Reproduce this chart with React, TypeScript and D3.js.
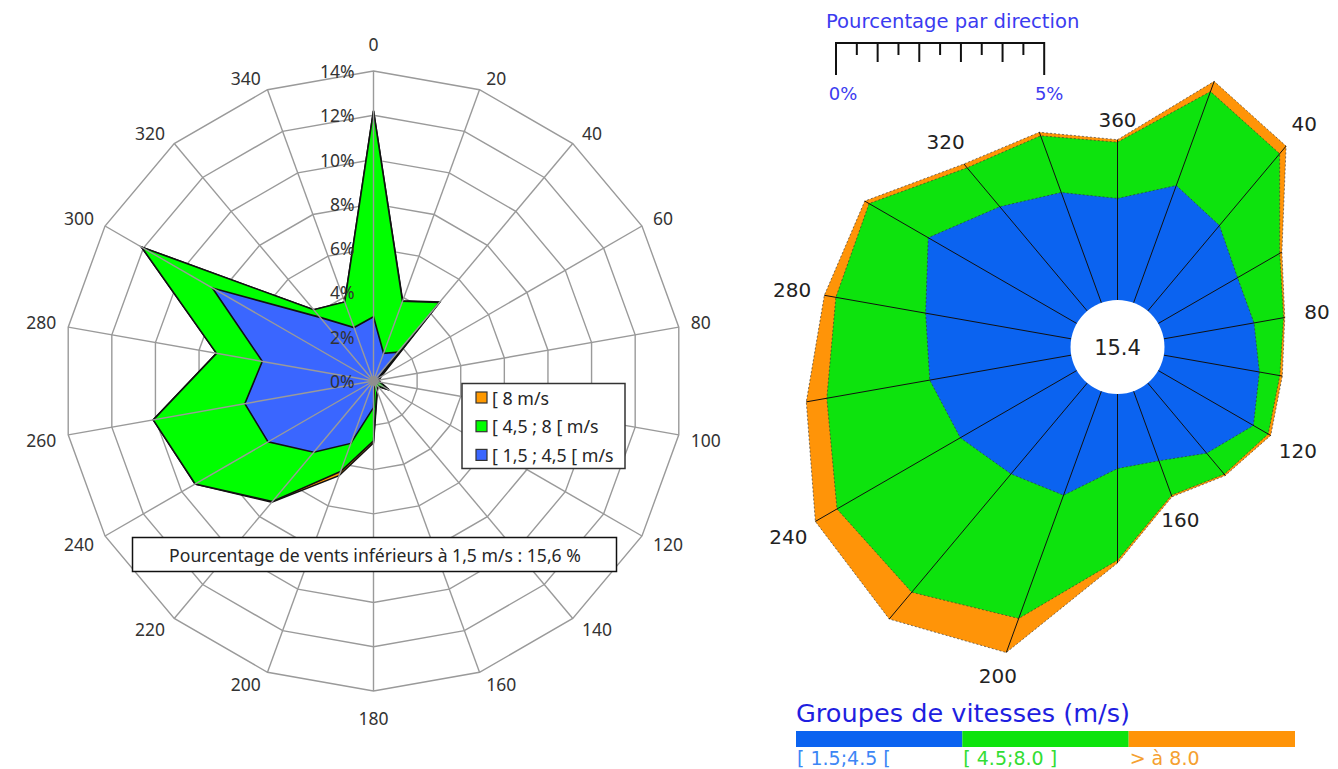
import React from "react";
import * as d3 from "d3";

// Directions (degrees from north, clockwise)
const directions = [0, 20, 40, 60, 80, 100, 120, 140, 160, 180, 200, 220, 240, 260, 280, 300, 320, 340];

// Radar chart: frequency (%) per direction and speed class
const radarLow = [2.9, 1.33, 1.7, 0.25, 0.15, 0.1, 0.25, 0.1, 0.15, 1.2, 3.0, 4.2, 5.5, 5.9, 5.1, 8.4, 3.75, 2.57];
const radarMid = [9.3, 2.5, 2.93, 0.05, 0.05, 0.2, 0.55, 0.2, 0.3, 1.5, 1.35, 2.9, 3.8, 4.2, 2.1, 3.7, 0.45, 1.23];
const radarHigh = [0, 0.02, 0.03, 0.1, 0.05, 0.02, 0.02, 0.02, 0.05, 0.1, 0.2, 0.05, 0, 0, 0, 0, 0, 0];
const radarTicks = [0, 2, 4, 6, 8, 10, 12, 14];
const radarLegend = ["[ 8 m/s", "[ 4,5 ; 8 [ m/s", "[ 1,5 ; 4,5 [ m/s"];
const radarCalmText = "Pourcentage de vents inférieurs à 1,5 m/s : 15,6 %";

// Rose chart: frequency (%) per direction and speed class
const roseLow = [2.44, 3.0, 2.68, 2.2, 2.2, 2.33, 2.64, 2.2, 1.78, 1.79, 2.66, 2.85, 3.23, 3.45, 3.55, 4.12, 3.27, 2.82];
const roseMid = [1.35, 2.4, 2.25, 1.17, 0.72, 0.5, 0.41, 0.66, 0.88, 2.2, 3.15, 3.71, 3.42, 2.51, 2.19, 1.64, 1.22, 1.45];
const roseHigh = [0.06, 0.26, 0.24, 0.06, 0.03, 0.06, 0.07, 0.04, 0.04, 0.07, 0.87, 0.84, 0.6, 0.5, 0.28, 0.12, 0.12, 0.09];
const roseLabelDirs = [0, 40, 80, 120, 160, 200, 240, 280, 320];
const roseCalm = "15.4";
const roseScaleTicks = [0, 0.5, 1, 1.5, 2, 2.5, 3, 3.5, 4, 4.5, 5];
const roseClasses = ["[ 1.5;4.5 [", "[ 4.5;8.0 ]", "> à 8.0"];

const RADAR_COLORS = { low: "#3a66ff", mid: "#00ff00", high: "#ff9900" };
const ROSE_COLORS = { low: "#0b63f0", mid: "#0de30d", high: "#ff9408" };
const ROSE_TEXT = ["#3d86f5", "#33dd33", "#f5a030"];

const rad = (d: number) => (d * Math.PI) / 180;

function stackRows(low: number[], mid: number[], high: number[]) {
  const rows = directions.map((d, i) => ({ dir: d, low: low[i], mid: mid[i], high: high[i] }));
  return d3.stack<any>().keys(["low", "mid", "high"])(rows);
}

function RadarChart() {
  const cx = 373.5;
  const cy = 381;
  const r = d3.scaleLinear().domain([0, 14]).range([0, 310]);
  const series = stackRows(radarLow, radarMid, radarHigh);
  const font = "'Noto Sans', 'Open Sans', sans-serif";
  const labelSize = 17.5;

  const ring = d3
    .lineRadial<number>()
    .angle((_, i) => rad(directions[i]))
    .radius((v) => r(v))
    .curve(d3.curveLinearClosed);

  const layer = (k: number) => ring(series[k].map((p) => p[1])) as string;

  const order = [
    { k: 2, color: RADAR_COLORS.high },
    { k: 1, color: RADAR_COLORS.mid },
    { k: 0, color: RADAR_COLORS.low },
  ];

  const outer = r(14);
  const anchorR = outer + 8;

  // category label placed just outside the outer ring, pushed away by its box size
  const labelPos = (d: number) => {
    const a = rad(d);
    const s = Math.sin(a);
    const c = Math.cos(a);
    const halfW = (String(d).length * 0.572 * labelSize) / 2;
    let x = anchorR * s;
    let y = -anchorR * c;
    if (Math.abs(s) > 0.01) x += Math.sign(s) * (halfW + 4);
    if (Math.abs(s) > 0.01) y -= Math.sign(c) * 4;
    else y -= Math.sign(c) * 19;
    return [x, y];
  };

  const legendColors = [RADAR_COLORS.high, RADAR_COLORS.mid, RADAR_COLORS.low];

  return (
    <g fontFamily={font}>
      <g transform={`translate(${cx},${cy})`}>
        {radarTicks
          .filter((t) => t > 0)
          .map((t) => (
            <path
              key={t}
              d={ring(directions.map(() => t)) as string}
              fill="none"
              stroke="#9a9a9a"
              strokeWidth={1.4}
            />
          ))}
        {order.map((o) => (
          <path key={o.k} d={layer(o.k)} fill={o.color} stroke="#111" strokeWidth={1.6} strokeLinejoin="miter" />
        ))}
        {directions.map((d) => (
          <line
            key={d}
            x1={0}
            y1={0}
            x2={outer * Math.sin(rad(d))}
            y2={-outer * Math.cos(rad(d))}
            stroke="#9a9a9a"
            strokeWidth={1.4}
          />
        ))}
        <circle r={5} fill="#8f8f8f" />
        {radarTicks.map((t) => (
          <text
            key={t}
            x={-19}
            y={-r(t)}
            textAnchor="end"
            dominantBaseline="central"
            fontSize={17.5}
            fill="#333"
          >
            {`${t}%`}
          </text>
        ))}
        {directions.map((d) => {
          const [x, y] = labelPos(d);
          return (
            <text
              key={d}
              x={x}
              y={y}
              textAnchor="middle"
              dominantBaseline="central"
              fontSize={labelSize}
              fill="#333"
            >
              {d}
            </text>
          );
        })}
      </g>
      {/* legend */}
      <rect x={462} y={383.5} width={163} height={85} fill="#fff" stroke="#333" strokeWidth={1.5} />
      {radarLegend.map((label, i) => (
        <g key={label} transform={`translate(476,${397.5 + i * 28.7})`}>
          <rect x={0} y={-5.5} width={11} height={11} fill={legendColors[i]} stroke="#333" strokeWidth={1.2} />
          <text x={16} y={0} dominantBaseline="central" fontSize={17.8} fill="#262626">
            {label}
          </text>
        </g>
      ))}
      {/* calm winds note */}
      <rect x={132.5} y={537.5} width={484} height={34} fill="#fff" stroke="#111" strokeWidth={1.5} />
      <text x={375} y={555} textAnchor="middle" dominantBaseline="central" fontSize={17.6} fill="#262626">
        {radarCalmText}
      </text>
    </g>
  );
}

function RoseChart() {
  const cx = 1117.5;
  const cy = 347;
  const hole = 47;
  const pxPerUnit = 41.64;
  const rr = d3.scaleLinear().domain([0, 5]).range([hole, hole + 5 * pxPerUnit]);
  const series = stackRows(roseLow, roseMid, roseHigh);
  const font = "'DejaVu Sans', sans-serif";

  const poly = d3
    .lineRadial<number>()
    .angle((_, i) => rad(directions[i]))
    .radius((v) => rr(v))
    .curve(d3.curveLinearClosed);

  const totals = series[2].map((p) => p[1]);
  const layers = [
    { k: 2, color: ROSE_COLORS.high },
    { k: 1, color: ROSE_COLORS.mid },
    { k: 0, color: ROSE_COLORS.low },
  ];

  // scale bar
  const sx = d3.scaleLinear().domain([0, 5]).range([836, 836 + 5 * pxPerUnit]);
  const barY = 43;

  // speed-class legend bar
  const band = d3.scaleBand<string>().domain(roseClasses).range([796, 1295]);

  return (
    <g fontFamily={font}>
      <text x={826} y={21} dominantBaseline="central" fontSize={19.6} fill="#3b3bf0">
        Pourcentage par direction
      </text>
      <line x1={sx(0)} x2={sx(5)} y1={barY} y2={barY} stroke="#111" strokeWidth={2} />
      {roseScaleTicks.map((t, i) => {
        const end = i === 0 || i === roseScaleTicks.length - 1;
        const len = end ? 32 : i % 2 === 1 ? 12 : 19;
        return <line key={t} x1={sx(t)} x2={sx(t)} y1={barY - 1} y2={barY + len} stroke="#111" strokeWidth={2} />;
      })}
      <text x={sx(0) + 7} y={93} textAnchor="middle" dominantBaseline="central" fontSize={18} fill="#3b3bf0">
        0%
      </text>
      <text x={sx(5) + 5} y={93} textAnchor="middle" dominantBaseline="central" fontSize={18} fill="#3b3bf0">
        5%
      </text>

      <g transform={`translate(${cx},${cy})`}>
        {layers.map((l) => (
          <path
            key={l.k}
            d={poly(series[l.k].map((p) => p[1])) as string}
            fill={l.color}
            stroke="#333"
            strokeOpacity={0.7}
            strokeWidth={0.9}
            strokeDasharray="2 2"
          />
        ))}
        {directions.map((d, i) => (
          <line
            key={d}
            x1={hole * Math.sin(rad(d))}
            y1={-hole * Math.cos(rad(d))}
            x2={rr(totals[i]) * Math.sin(rad(d))}
            y2={-rr(totals[i]) * Math.cos(rad(d))}
            stroke="#111"
            strokeWidth={1}
          />
        ))}
        <circle r={hole} fill="#fff" />
        <text x={0} y={1} textAnchor="middle" dominantBaseline="central" fontSize={21} fill="#222">
          {roseCalm}
        </text>
        {roseLabelDirs.map((d) => {
          const i = directions.indexOf(d % 360);
          const a = rad(d);
          const lr = rr(totals[i]) + 20 + 13 * Math.abs(Math.sin(a));
          return (
            <text
              key={d}
              x={lr * Math.sin(a)}
              y={-lr * Math.cos(a)}
              textAnchor="middle"
              dominantBaseline="central"
              fontSize={20}
              fill="#222"
            >
              {d === 0 ? 360 : d}
            </text>
          );
        })}
      </g>

      <text x={796} y={713} dominantBaseline="central" fontSize={25.6} fill="#1f1fe0">
        Groupes de vitesses (m/s)
      </text>
      {roseClasses.map((c, i) => (
        <g key={c}>
          <rect
            x={band(c)}
            y={731}
            width={band.bandwidth()}
            height={16}
            fill={[ROSE_COLORS.low, ROSE_COLORS.mid, ROSE_COLORS.high][i]}
          />
          <text x={(band(c) as number) + 1} y={758} dominantBaseline="central" fontSize={19} fill={ROSE_TEXT[i]}>
            {c}
          </text>
        </g>
      ))}
    </g>
  );
}

export default function App() {
  return (
    <svg
      width={1338}
      height={769}
      style={{ position: "absolute", left: 0, top: 0, background: "#fff" }}
    >
      <rect width={1338} height={769} fill="#fff" />
      <RadarChart />
      <RoseChart />
    </svg>
  );
}
